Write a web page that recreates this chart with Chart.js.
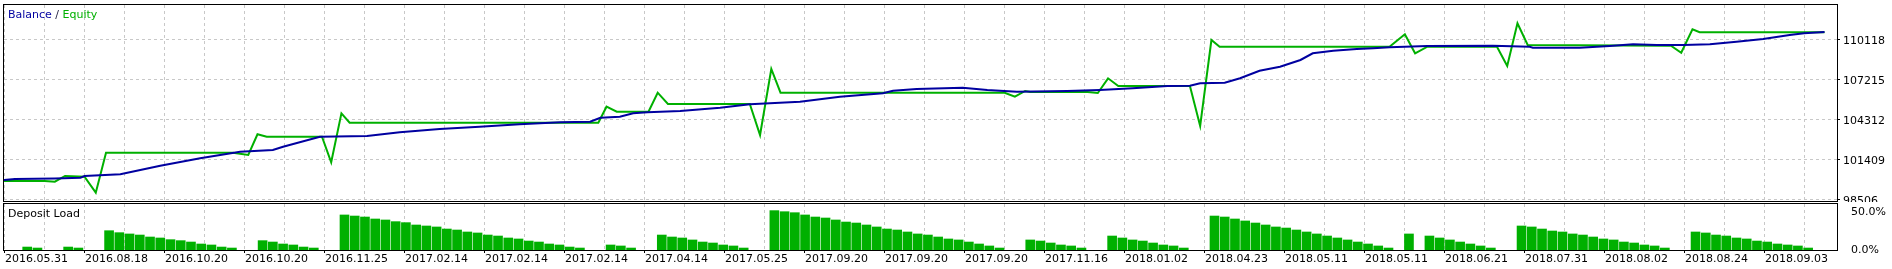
<!DOCTYPE html>
<html>
<head>
<meta charset="utf-8">
<script src="https://cdn.jsdelivr.net/npm/chart.js@4.4.1/dist/chart.umd.min.js"></script>
<style>
html, body { margin: 0; padding: 0; background: #fff; }
#wrap { position: relative; width: 1892px; height: 269px; overflow: hidden; }
canvas { position: absolute; left: 0; }
#mainCanvas { top: 0; }
#loadCanvas { top: 202px; }
</style>
</head>
<body>
<div id="wrap">
  <canvas id="mainCanvas" width="1892" height="202"></canvas>
  <canvas id="loadCanvas" width="1892" height="67"></canvas>
</div>
<script>
// x is the trade slot number (one deposit load bar per slot)
const dateLabels = ['2016.05.31','2016.08.18','2016.10.20','2016.10.20','2016.11.25','2017.02.14','2017.02.14',
  '2017.02.14','2017.04.14','2017.05.25','2017.09.20','2017.09.20','2017.09.20','2017.11.16','2018.01.02',
  '2018.04.23','2018.05.11','2018.05.11','2018.06.21','2018.07.31','2018.08.02','2018.08.24','2018.09.03'];

const valueTicks = [98506, 101409, 104312, 107215, 110118];
const loadTicks = [0, 50];

const balanceX = [-1.27, -0.2, 3.7, 6.2, 6.6, 10.1, 14.0, 17.9, 21.8, 25.0, 26.0, 29.6, 34.2, 37.4, 41.3, 45.2,
  49.1, 53.1, 56.0, 57.0, 58.9, 60.2, 61.6, 64.8, 68.7, 71.6, 76.5, 80.4, 84.6, 85.6, 87.9, 92.4, 94.8, 97.7,
  102.6, 105.8, 109.0, 112.4, 114.6, 115.6, 118.0, 119.5, 121.4, 123.4, 125.4, 126.6, 128.6, 130.9, 132.5,
  134.1, 137.8, 144.2, 147.8, 148.1, 152.7, 155.6, 157.9, 160.2, 162.8, 165.4, 168.0, 170.6, 173.2, 174.6, 176.6];
const balanceY = [99958, 100030, 100066, 100124, 100248, 100371, 100995, 101532, 102011, 102135, 102374, 103100,
  103151, 103419, 103659, 103826, 104000, 104145, 104189, 104479, 104552, 104798, 104871, 104965, 105205, 105451,
  105640, 106003, 106250, 106438, 106562, 106656, 106489, 106366, 106417, 106489, 106613, 106780, 106801, 106976,
  107019, 107338, 107890, 108180, 108667, 109152, 109341, 109465, 109515, 109588, 109683, 109705, 109632, 109559,
  109559, 109683, 109806, 109755, 109755, 109806, 109995, 110191, 110481, 110604, 110699];

const equityX = [-1.27, 2.7, 3.7, 4.7, 6.6, 7.7, 8.7, 21.1, 22.6, 23.5, 24.4, 29.8, 30.7, 31.7, 32.5, 56.8, 57.6,
  58.6, 61.7, 62.6, 63.6, 71.6, 72.6, 73.7, 74.6, 96.5, 97.5, 98.5, 99.0, 104.6, 105.6, 106.6, 107.6, 114.6,
  115.6, 116.7, 117.5, 134.1, 135.6, 136.6, 137.8, 144.6, 145.6, 146.6, 147.6, 161.6, 162.6, 163.7, 164.4, 176.6];
const equityY = [99885, 99885, 99834, 100248, 100197, 99036, 101939, 101939, 101772, 103274, 103100, 103100,
  101242, 104798, 104116, 104116, 105277, 104914, 104914, 106293, 105473, 105473, 103223, 108013, 106293, 106293,
  106003, 106417, 106344, 106344, 106272, 107338, 106780, 106780, 103877, 110118, 109632, 109632, 110532, 109153,
  109632, 109632, 108231, 111330, 109755, 109704, 109196, 110894, 110677, 110677];

const loadSlot = [1, 2, 5, 6,
  9, 10, 11, 12, 13, 14, 15, 16, 17, 18, 19, 20, 21,
  24, 25, 26, 27, 28, 29,
  32, 33, 34, 35, 36, 37, 38, 39, 40, 41, 42, 43, 44, 45, 46, 47, 48, 49, 50, 51, 52, 53, 54, 55,
  58, 59, 60,
  63, 64, 65, 66, 67, 68, 69, 70, 71,
  74, 75, 76, 77, 78, 79, 80, 81, 82, 83, 84, 85, 86, 87, 88, 89, 90, 91, 92, 93, 94, 95, 96,
  99, 100, 101, 102, 103, 104,
  107, 108, 109, 110, 111, 112, 113, 114,
  117, 118, 119, 120, 121, 122, 123, 124, 125, 126, 127, 128, 129, 130, 131, 132, 133, 134,
  136,
  138, 139, 140, 141, 142, 143, 144,
  147, 148, 149, 150, 151, 152, 153, 154, 155, 156, 157, 158, 159, 160, 161,
  164, 165, 166, 167, 168, 169, 170, 171, 172, 173, 174, 175];
const loadPct = [3.9, 2.6, 3.9, 2.6,
  25.4, 22.8, 21.1, 19.7, 17.1, 15.8, 13.6, 12.3, 10.5, 7.9, 6.6, 3.9, 2.6,
  12.3, 10.5, 7.9, 6.6, 3.9, 2.6,
  46.1, 44.7, 43.4, 40.8, 39.5, 37.3, 36.0, 32.9, 31.6, 30.3, 27.6, 26.3, 23.7, 22.4, 19.7, 18.4, 15.8, 14.5,
  11.8, 10.5, 7.9, 6.6, 3.9, 2.6,
  6.6, 5.3, 2.6,
  19.7, 17.1, 15.8, 13.2, 10.5, 9.2, 6.6, 5.3, 2.6,
  51.8, 50.4, 49.1, 46.1, 43.4, 42.1, 39.5, 36.8, 35.5, 32.9, 30.3, 27.6, 26.3, 23.7, 21.1, 19.7, 17.1, 14.5,
  13.2, 10.5, 7.9, 5.3, 2.6,
  13.2, 11.8, 9.2, 6.6, 5.3, 2.6,
  18.4, 15.8, 13.2, 11.8, 9.2, 6.6, 5.3, 2.6,
  44.7, 43.4, 40.8, 38.2, 35.5, 32.9, 30.3, 28.9, 26.3, 23.7, 21.1, 18.4, 15.8, 13.2, 10.5, 7.9, 5.3, 2.6,
  21.1,
  18.4, 15.8, 13.2, 10.5, 7.9, 5.3, 2.6,
  31.6, 30.3, 27.6, 25.0, 23.7, 21.1, 19.7, 17.1, 14.5, 13.2, 10.5, 9.2, 6.6, 5.3, 2.6,
  23.7, 22.4, 19.7, 18.4, 15.8, 14.5, 11.8, 10.5, 7.9, 6.6, 5.3, 2.6];

const X_MIN = -1.267, X_MAX = 177.82, GRID_STEP = 3.9082;
const Y_MIN = 98433.4, Y_MAX = 112658;
const LOAD_MAX = 60.53;

const GRID = '#c8c8c8';
const BLUE = '#0000a0';
const GREEN = '#00b000';
const FONT = { family: 'DejaVu Sans', size: 11 };

Chart.defaults.font.family = 'DejaVu Sans';
Chart.defaults.font.size = 11;

function gridTicks(scale) {
  const t = [];
  for (let v = X_MIN; v <= X_MAX + 0.001; v += GRID_STEP) t.push({ value: v });
  scale.ticks = t;
}

const framePlugin = {
  id: 'frame',
  afterDraw(chart, args, opts) {
    const { ctx, chartArea: a } = chart;
    ctx.save();
    ctx.strokeStyle = '#000';
    ctx.lineWidth = 1;
    ctx.strokeRect(a.left - 0.5, a.top - 0.5, a.right - a.left + 1, a.bottom - a.top + 1);
    ctx.font = '11px "DejaVu Sans"';
    ctx.textBaseline = 'alphabetic';
    let x = a.left + 4;
    opts.caption.forEach(p => {
      ctx.fillStyle = p.color;
      ctx.fillText(p.text, x, a.top + opts.captionY);
      x += ctx.measureText(p.text).width;
    });
    ctx.restore();
  }
};

new Chart(document.getElementById('mainCanvas'), {
  type: 'line',
  data: {
    datasets: [
      {
        label: 'Balance',
        data: balanceX.map((x, i) => ({ x: x, y: balanceY[i] })),
        borderColor: BLUE,
        borderWidth: 2,
        pointRadius: 0,
        tension: 0
      },
      {
        label: 'Equity',
        data: equityX.map((x, i) => ({ x: x, y: equityY[i] })),
        borderColor: GREEN,
        borderWidth: 2,
        pointRadius: 0,
        tension: 0
      }
    ]
  },
  options: {
    responsive: false,
    animation: false,
    devicePixelRatio: 1,
    layout: { padding: { left: 4, top: 5, right: 0, bottom: 0 } },
    plugins: {
      legend: { display: false },
      tooltip: { enabled: false },
      frame: {
        captionY: 13,
        caption: [{ text: 'Balance', color: BLUE }, { text: ' / ', color: '#202040' }, { text: 'Equity', color: GREEN }]
      }
    },
    scales: {
      x: {
        type: 'linear', min: X_MIN, max: X_MAX,
        afterBuildTicks: gridTicks,
        afterFit: s => { s.height = 1; s.paddingLeft = 0; s.paddingRight = 0; },
        ticks: { display: false },
        grid: { color: GRID, drawTicks: false },
        border: { display: false, dash: [3, 3] }
      },
      y: {
        type: 'linear', position: 'right', min: Y_MIN, max: Y_MAX,
        afterBuildTicks: s => { s.ticks = valueTicks.map(v => ({ value: v })); },
        afterFit: s => { s.width = 55; s.paddingTop = 0; s.paddingBottom = 0; },
        ticks: { callback: v => String(v), font: FONT, color: '#000', padding: 3, labelOffset: 1 },
        grid: { color: GRID, tickLength: 3, tickColor: '#000' },
        border: { display: false, dash: [3, 3] }
      }
    }
  },
  plugins: [framePlugin]
});

new Chart(document.getElementById('loadCanvas'), {
  type: 'bar',
  data: {
    datasets: [{
      label: 'Deposit Load',
      data: loadSlot.map((x, i) => ({ x: x, y: loadPct[i] })),
      backgroundColor: GREEN,
      borderWidth: 0,
      barThickness: 9
    }]
  },
  options: {
    responsive: false,
    animation: false,
    devicePixelRatio: 1,
    layout: { padding: { left: 4, top: 2, right: 0, bottom: 0 } },
    plugins: {
      legend: { display: false },
      tooltip: { enabled: false },
      frame: { captionY: 13, caption: [{ text: 'Deposit Load', color: '#000' }] }
    },
    scales: {
      x: {
        type: 'linear', min: X_MIN, max: X_MAX, offset: false,
        afterBuildTicks: gridTicks,
        afterFit: s => { s.height = 19; s.paddingLeft = 0; s.paddingRight = 0; },
        ticks: {
          autoSkip: false, maxRotation: 0, minRotation: 0, align: 'start', padding: 0, labelOffset: 1,
          font: FONT, color: '#000',
          callback: (v, i) => (i % 2 === 0 ? dateLabels[i / 2] : '')
        },
        grid: {
          offset: false, color: GRID, tickLength: 3,
          tickColor: c => (c.index % 2 === 0 ? '#000' : 'rgba(0,0,0,0)')
        },
        border: { display: false, dash: [3, 3] }
      },
      y: {
        type: 'linear', position: 'right', min: 0, max: LOAD_MAX,
        afterBuildTicks: s => { s.ticks = loadTicks.map(v => ({ value: v })); },
        afterFit: s => { s.width = 55; s.paddingTop = 0; s.paddingBottom = 0; },
        ticks: { callback: v => v.toFixed(1) + '%', font: FONT, color: '#000', padding: 6 },
        grid: { display: false },
        border: { display: false }
      }
    }
  },
  plugins: [framePlugin]
});
</script>
</body>
</html>
